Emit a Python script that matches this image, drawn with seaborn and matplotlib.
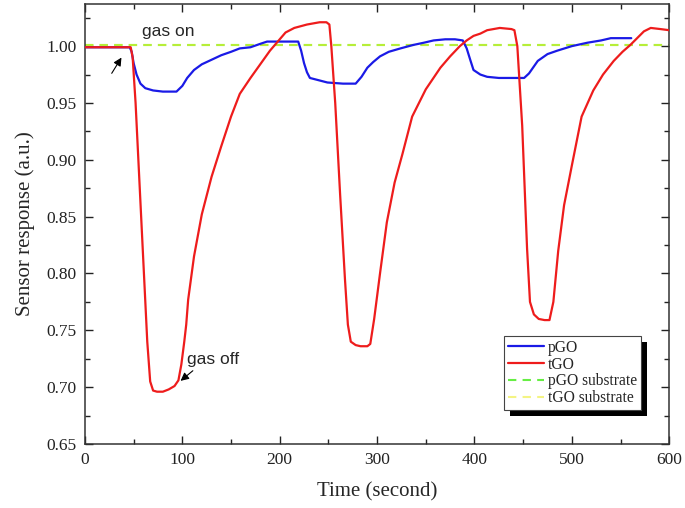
import numpy as np
import pandas as pd
import seaborn as sns
import matplotlib
matplotlib.use("Agg")
import matplotlib.pyplot as plt
from matplotlib.ticker import MultipleLocator
from matplotlib.patches import Rectangle

# ---- data ----
t_pgo = [0, 46, 48, 50, 53, 57, 62, 70, 80, 90, 94, 100, 105, 112, 120, 130, 140, 150,
         159, 170, 180, 187, 200, 210, 219, 222, 225, 228, 231, 240, 249, 265, 278, 284,
         290, 296, 303, 312, 324, 337, 348, 358, 370, 380, 388, 392, 396, 399, 406, 413,
         425, 440, 451, 456, 465, 475, 485, 500, 516, 530, 540, 550, 561]
v_pgo = [0.999, 0.999, 0.995, 0.985, 0.975, 0.967, 0.963, 0.961, 0.960, 0.960, 0.960,
         0.965, 0.972, 0.979, 0.984, 0.988, 0.992, 0.995, 0.998, 0.999, 1.002, 1.004,
         1.004, 1.004, 1.004, 0.996, 0.985, 0.977, 0.972, 0.970, 0.968, 0.967, 0.967,
         0.973, 0.981, 0.986, 0.991, 0.995, 0.998, 1.001, 1.003, 1.005, 1.006, 1.006,
         1.005, 0.998, 0.987, 0.979, 0.975, 0.973, 0.972, 0.972, 0.972, 0.976, 0.987,
         0.993, 0.996, 1.000, 1.003, 1.005, 1.007, 1.007, 1.007]

t_tgo = [0, 47, 49, 52, 56, 60, 64, 67, 70, 74, 80, 86, 92, 96, 99, 102, 104, 106,
         112, 120, 130, 140, 150, 159, 170, 180, 190, 200, 206, 215, 228, 241, 248,
         251, 253, 257, 262, 267, 270, 273, 278, 283, 290, 293, 297, 303, 310, 318,
         326, 336, 350, 365, 375, 385, 392, 399, 406, 413, 426, 438, 441, 444, 449,
         454, 457, 461, 466, 472, 477, 481, 486, 492, 500, 510, 522, 532, 543, 552,
         560, 567, 574, 581, 591, 600]
v_tgo = [0.999, 0.999, 0.990, 0.950, 0.880, 0.810, 0.740, 0.705, 0.697, 0.696, 0.696,
         0.698, 0.701, 0.706, 0.720, 0.740, 0.755, 0.777, 0.815, 0.852, 0.885, 0.912,
         0.938, 0.958, 0.972, 0.984, 0.996, 1.006, 1.012, 1.016, 1.019, 1.021, 1.021,
         1.019, 1.000, 0.950, 0.870, 0.795, 0.755, 0.740, 0.737, 0.736, 0.736, 0.738,
         0.760, 0.800, 0.845, 0.880, 0.905, 0.938, 0.962, 0.981, 0.991, 1.000, 1.005,
         1.009, 1.011, 1.014, 1.016, 1.015, 1.014, 1.000, 0.930, 0.822, 0.775, 0.764,
         0.760, 0.759, 0.759, 0.775, 0.820, 0.860, 0.895, 0.938, 0.961, 0.975, 0.987,
         0.995, 1.001, 1.007, 1.013, 1.016, 1.015, 1.014]

t_sub = [0, 600]
v_pgo_sub = [1.001, 1.001]
v_tgo_sub = [1.001, 1.001]

x_ticks = [0, 100, 200, 300, 400, 500, 600]
y_ticks = [0.65, 0.70, 0.75, 0.80, 0.85, 0.90, 0.95, 1.00]

# ---- plotting ----
sns.set_theme(style="ticks")
plt.rcParams['font.family'] = ['Liberation Serif', 'DejaVu Serif']

fig = plt.figure(figsize=(6.85, 5.08), dpi=100)
ax = fig.add_axes([0.124, 0.126, 0.853, 0.866])

df_p = pd.DataFrame({"t": t_pgo, "v": v_pgo})
df_t = pd.DataFrame({"t": t_tgo, "v": v_tgo})
df_ps = pd.DataFrame({"t": t_sub, "v": v_pgo_sub})
df_ts = pd.DataFrame({"t": t_sub, "v": v_tgo_sub})

sns.lineplot(data=df_ps, x="t", y="v", ax=ax, color="#66ee44", lw=1.5,
             linestyle=(0, (4, 3)), label="pGO substrate", zorder=2)
sns.lineplot(data=df_ts, x="t", y="v", ax=ax, color="#eeee30", lw=1.5, alpha=0.6,
             linestyle=(0, (4, 3)), label="tGO substrate", zorder=2)
sns.lineplot(data=df_p, x="t", y="v", ax=ax, color="#1a1ae6", lw=1.6, label="pGO",
             sort=False, estimator=None, zorder=3)
sns.lineplot(data=df_t, x="t", y="v", ax=ax, color="#ee1c1c", lw=1.6, label="tGO",
             sort=False, estimator=None, zorder=3)

ax.set_xlim(0, 600)
ax.set_ylim(0.65, 1.037)
ax.set_xticks(x_ticks)
ax.set_yticks(y_ticks)
ax.set_xticklabels([str(v) for v in x_ticks])
ax.set_yticklabels([f"{v:.2f}" for v in y_ticks])
ax.xaxis.set_minor_locator(MultipleLocator(50))
ax.yaxis.set_minor_locator(MultipleLocator(0.025))
ax.tick_params(which="both", direction="in", top=True, right=True, width=1.0,
               labelsize=12.5, colors="#222222", pad=6)
ax.tick_params(which="major", length=6)
ax.tick_params(which="minor", length=3.5)
for s in ax.spines.values():
    s.set_linewidth(1.1)
    s.set_color("#333333")

ax.set_xlabel("Time (second)", fontsize=15, labelpad=10)
ax.set_ylabel("Sensor response (a.u.)", fontsize=15, labelpad=8)

# legend order like reference
handles, labels = ax.get_legend_handles_labels()
order = [labels.index(n) for n in ["pGO", "tGO", "pGO substrate", "tGO substrate"]]
leg = ax.legend([handles[i] for i in order], [labels[i] for i in order],
                loc="lower right", bbox_to_anchor=(0.952, 0.077), borderaxespad=0,
                fontsize=11.2, frameon=True, fancybox=False, framealpha=1,
                edgecolor="#444444", borderpad=0.25, labelspacing=0.05,
                handlelength=2.3, handletextpad=0.3)
leg.get_frame().set_linewidth(0.8)
leg.set_zorder(6)

# solid black drop shadow behind the legend
fig.canvas.draw()
bb = leg.get_window_extent().transformed(fig.transFigure.inverted())
off_x, off_y = 6 / 685, 6 / 508
ax.add_patch(Rectangle((bb.x0 + off_x, bb.y0 - off_y), bb.width, bb.height,
                       transform=fig.transFigure, facecolor="black",
                       edgecolor="none", zorder=5, clip_on=False))

# annotations
ax.text(59, 1.0125, "gas on", fontsize=12.5, family=["Liberation Sans", "DejaVu Sans"],
        ha="left", va="center")
ax.annotate("", xy=(39, 0.992), xytext=(26, 0.974),
            arrowprops=dict(arrowstyle="-|>", color="black", lw=0.8,
                            mutation_scale=12))
ax.text(105, 0.724, "gas off", fontsize=12.5, family=["Liberation Sans", "DejaVu Sans"],
        ha="left", va="center")
ax.annotate("", xy=(96, 0.704), xytext=(113, 0.716),
            arrowprops=dict(arrowstyle="-|>", color="black", lw=0.8,
                            mutation_scale=12))

fig.savefig("out.png", dpi=100)
